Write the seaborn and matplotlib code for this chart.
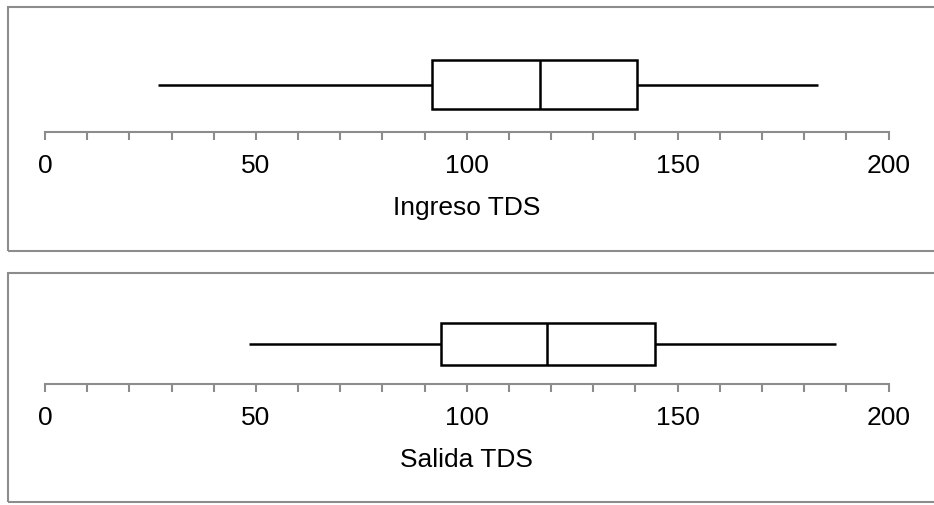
import matplotlib
matplotlib.use("Agg")
import matplotlib.pyplot as plt
from matplotlib.patches import Rectangle
from matplotlib.ticker import MultipleLocator
import seaborn as sns

# ---- data (five-number summaries) ----
ingreso_tds = [26.7, 91.7, 117.4, 140.4, 183.3]
salida_tds = [48.3, 93.8, 119.0, 144.6, 187.6]
axis_labels = ["Ingreso TDS", "Salida TDS"]
x_ticks = [0, 50, 100, 150, 200]

sns.set_theme(style="white")
plt.rcParams["font.family"] = ["Liberation Sans", "DejaVu Sans"]

W, H = 934, 506
fig = plt.figure(figsize=(W / 100, H / 100), dpi=100)
fig.patch.set_facecolor("white")

GRAY = "#8c8c8c"
FS = 19

# panel layout in pixels: (frame_top, frame_bottom, axes_top, spine_y, box_center, box_half)
panels = [
    (ingreso_tds, axis_labels[0], 8, 251.7, 40, 133, 85.5, 24.5),
    (salida_tds, axis_labels[1], 274.3, 503, 300, 385, 345, 21.0),
]

x_left, x_right = 45, 888.5

for data, label, f_top, f_bot, a_top, spine_y, center, half in panels:
    # frame around the panel
    fig.patches.append(Rectangle((7.5 / W, 1 - f_bot / H), (W + 20) / W, (f_bot - f_top) / H,
                                 transform=fig.transFigure, fill=False,
                                 edgecolor=GRAY, linewidth=1.5))
    ax = fig.add_axes([x_left / W, 1 - spine_y / H, (x_right - x_left) / W, (spine_y - a_top) / H])
    ax.set_facecolor("none")
    sns.boxplot(x=data, ax=ax, orient="h", whis=(0, 100), width=0.8,
                color="white", linecolor="black", linewidth=1.8,
                showcaps=False, fliersize=0)
    ppu = half / 0.4
    ax.set_ylim((spine_y - center) / ppu, -(center - a_top) / ppu)
    ax.set_xlim(x_ticks[0], x_ticks[-1])
    ax.set_xticks(x_ticks)
    ax.xaxis.set_minor_locator(MultipleLocator(10))
    ax.set_yticks([])
    ax.set_ylabel("")
    for s in ["left", "top", "right"]:
        ax.spines[s].set_visible(False)
    ax.spines["bottom"].set_color(GRAY)
    ax.spines["bottom"].set_linewidth(1.5)
    ax.tick_params(axis="x", which="both", bottom=True, direction="out", length=5.5,
                   width=1.5, color=GRAY, labelsize=FS, labelcolor="black", pad=9.5)
    ax.set_xlabel(label, fontsize=FS, color="black", labelpad=13)

fig.savefig("out.png", dpi=100, facecolor="white")
